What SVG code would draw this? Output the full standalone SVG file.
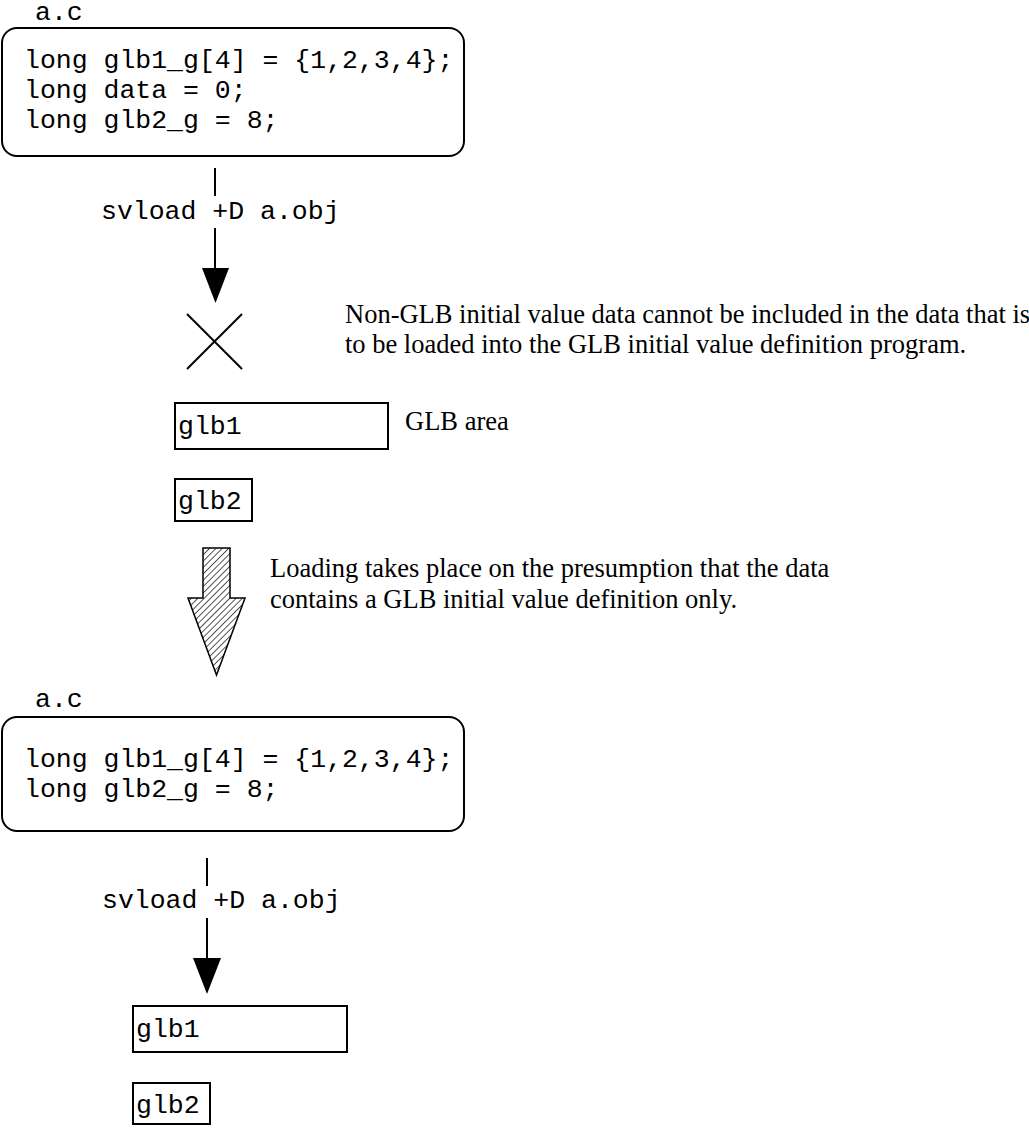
<svg xmlns="http://www.w3.org/2000/svg" width="1029" height="1131" viewBox="0 0 1029 1131">
<style>
.mono{font-family:"Liberation Mono","Courier New",monospace;font-size:26.5px;fill:#000}
.serif{font-family:"Liberation Serif","Times New Roman",serif;font-size:26.5px;fill:#000}
.box{fill:#fff;stroke:#000;stroke-width:2}
.ln{stroke:#000;stroke-width:2;fill:none}
</style>
<defs>
<pattern id="hatch" width="4.5" height="4.5" patternUnits="userSpaceOnUse" patternTransform="rotate(45)">
<rect width="4.5" height="4.5" fill="#fff"/>
<line x1="0" y1="0" x2="0" y2="4.5" stroke="#444" stroke-width="1.8"/>
</pattern>
</defs>
<rect width="1029" height="1131" fill="#fff"/>

<g id="src1">
<text class="mono" x="35" y="20">a.c</text>
<rect class="box" x="2" y="28" width="462" height="128" rx="15"/>
<text class="mono" x="24" y="68">long glb1_g[4] = {1,2,3,4};</text>
<text class="mono" x="24" y="98">long data = 0;</text>
<text class="mono" x="24" y="128">long glb2_g = 8;</text>
</g>

<g id="connectors">
<line class="ln" x1="215" y1="168" x2="215" y2="196"/>
<text class="mono" x="101" y="219">svload +D a.obj</text>
<line class="ln" x1="215" y1="228" x2="215" y2="270"/>
<polygon points="202,268 229,268 215.5,303" fill="#000"/>
<line class="ln" x1="207" y1="858" x2="207" y2="886"/>
<text class="mono" x="102" y="908">svload +D a.obj</text>
<line class="ln" x1="207" y1="918" x2="207" y2="960"/>
<polygon points="193,958 221,958 207,994" fill="#000"/>
<polygon points="203,548 230,548 230,598 245,598 216.5,675 188,598 203,598" fill="url(#hatch)" stroke="#000" stroke-width="1.5"/>
</g>

<g id="cross">
<line class="ln" x1="187" y1="314" x2="242" y2="369"/>
<line class="ln" x1="242" y1="314" x2="187" y2="369"/>
</g>

<g id="note1">
<text class="serif" x="345" y="323">Non-GLB initial value data cannot be included in the data that is</text>
<text class="serif" x="345" y="353">to be loaded into the GLB initial value definition program.</text>
</g>

<g id="glb1a">
<rect class="box" x="175" y="403" width="213" height="46"/>
<text class="mono" x="178" y="434">glb1</text>
</g>
<text class="serif" x="405" y="430">GLB area</text>
<g id="glb2a">
<rect class="box" x="175" y="479" width="77" height="42"/>
<text class="mono" x="178" y="509">glb2</text>
</g>

<g id="note2">
<text class="serif" x="270" y="577">Loading takes place on the presumption that the data</text>
<text class="serif" x="270" y="608">contains a GLB initial value definition only.</text>
</g>

<g id="src2">
<text class="mono" x="35" y="707">a.c</text>
<rect class="box" x="2" y="717" width="462" height="114" rx="15"/>
<text class="mono" x="24" y="767">long glb1_g[4] = {1,2,3,4};</text>
<text class="mono" x="24" y="797">long glb2_g = 8;</text>
</g>

<g id="glb1b">
<rect class="box" x="133" y="1006" width="214" height="46"/>
<text class="mono" x="136" y="1037">glb1</text>
</g>
<g id="glb2b">
<rect class="box" x="133" y="1083" width="77" height="41"/>
<text class="mono" x="136" y="1113">glb2</text>
</g>
</svg>
